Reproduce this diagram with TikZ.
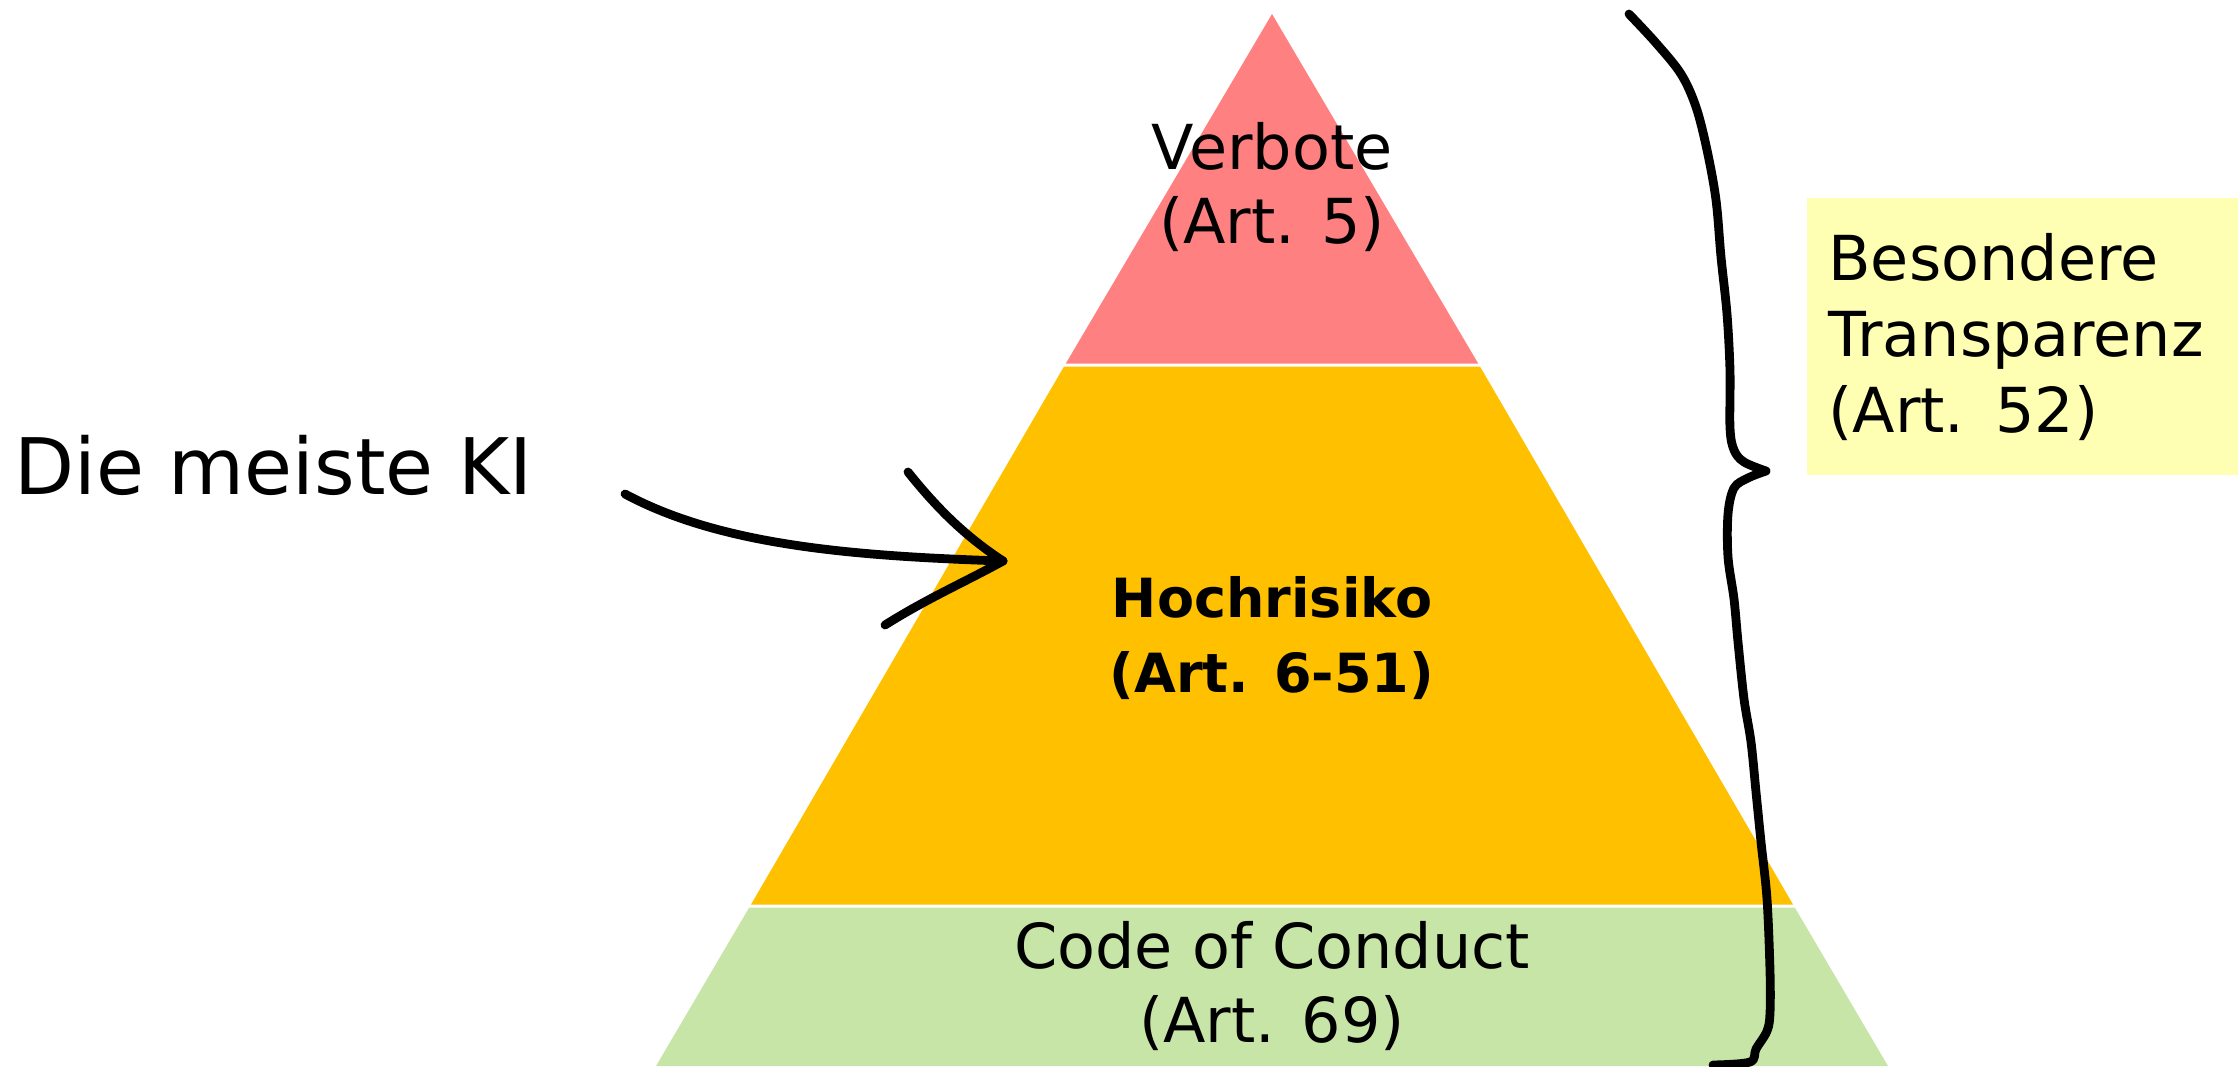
\documentclass[tikz,border=0pt]{standalone}
\usepackage{fontspec}
\setmainfont{DejaVu Sans}
\definecolor{cred}{RGB}{255,128,128}
\definecolor{corange}{RGB}{255,192,0}
\definecolor{cgreen}{RGB}{200,229,168}
\definecolor{cyellow}{RGB}{255,255,180}
\tikzset{
  layertext/.style={align=center, inner sep=0pt, font=\fontsize{31}{37}\selectfont},
  boldtext/.style={align=center, inner sep=0pt, font=\bfseries\fontsize{27}{37.5}\selectfont},
  hand/.style={line width=4.4pt, line cap=round, line join=round, black},
  notebox/.style={fill=cyellow, draw=none, align=left, text width=200pt, inner xsep=10.5pt,
    minimum width=215.5pt, minimum height=138.5pt, font=\fontsize{31}{38}\selectfont},
}
\begin{document}
\begin{tikzpicture}[x=0.5pt,y=-0.5pt]
\useasboundingbox (0,0) rectangle (2238,1066);
% pyramid layers
\fill[cred] (1272,14) -- (1478.2,363.5) -- (1065.8,363.5) -- cycle;
\fill[corange] (1064.0,366.5) -- (1480.0,366.5) -- (1793.0,904.5) -- (751.0,904.5) -- cycle;
\fill[cgreen] (749.2,907.5) -- (1794.8,907.5) -- (1888,1066) -- (656,1066) -- cycle;
% layer labels
\node[layertext] (verbote) at (1272,187) {Verbote\\(Art. 5)};
\node[boldtext] (hoch) at (1272,638) {Hochrisiko\\(Art. 6-51)};
\node[layertext] (coc) at (1272,986) {Code of Conduct\\(Art. 69)};
% left label
\node[anchor=base west, inner sep=0pt, font=\fontsize{39}{45}\selectfont] (meiste) at (14,494) {Die meiste KI};
% yellow note
\node[notebox, anchor=north west] (transp) at (1807,198) {Besondere\\Transparenz\\(Art. 52)};
% hand-drawn arrow
\coordinate (arrS) at (625,494);
\coordinate (arrT) at (1003,561);
\coordinate (headU) at (908,472);
\coordinate (headL) at (885,625);
\draw[hand] (arrS) .. controls (720,545) and (850,556) .. (arrT);
\draw[hand] (headU) .. controls (940,512) and (968,538) .. (arrT);
\draw[hand] (headL) .. controls (928,598) and (965,582) .. (arrT);
% hand-drawn brace
\coordinate (braceTop) at (1629,14);
\coordinate (braceTip) at (1766,471);
\coordinate (braceBot) at (1713,1065);
\draw[hand] plot[smooth, tension=0.55] coordinates {
 (1629,14) (1656,43) (1681,74) (1696,107) (1707,150) (1716,200) (1721,257)
 (1727,314) (1730,371) (1730,428) (1734,450) (1744,462) (1766,471)};
\draw[hand] plot[smooth, tension=0.55] coordinates {
 (1766,471) (1748,478) (1734,488) (1728,514) (1728,557) (1734,599) (1738,642)
 (1744,699) (1751,742) (1756,792) (1761,842) (1767,899) (1770,971) (1770,1013)
 (1767,1031) (1756,1049) (1750,1062) (1713,1065)};
\end{tikzpicture}
\end{document}
